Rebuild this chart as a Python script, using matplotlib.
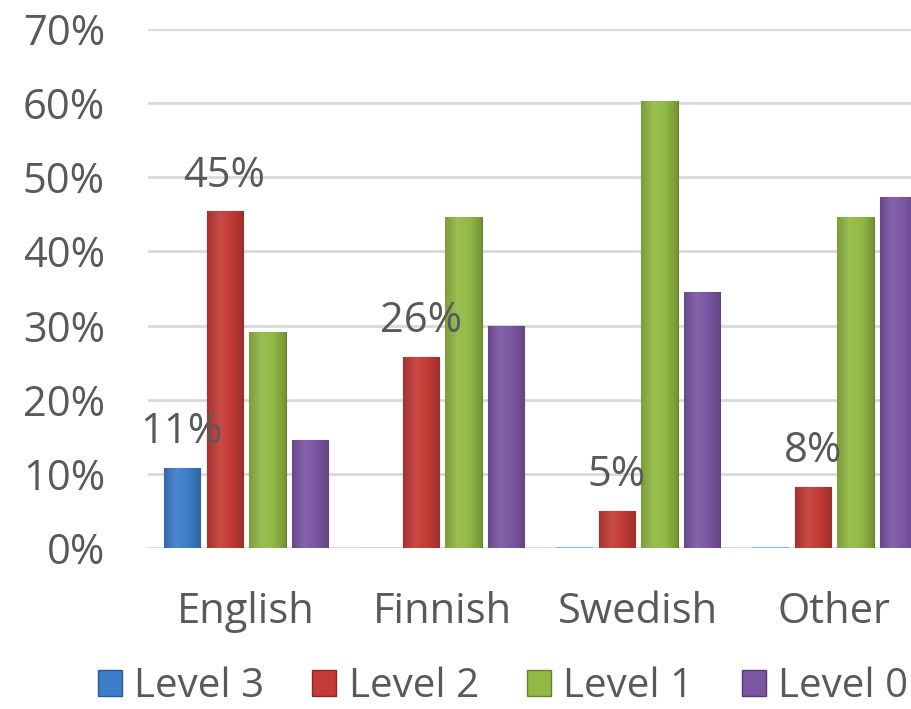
import numpy as np
import matplotlib
matplotlib.use('Agg')
import matplotlib.pyplot as plt
from matplotlib.colors import LinearSegmentedColormap, to_rgb
from matplotlib.patches import Patch

plt.rcParams['font.family'] = ['Open Sans', 'DejaVu Sans']

categories = ['English', 'Finnish', 'Swedish', 'Other']
series = ['Level 3', 'Level 2', 'Level 1', 'Level 0']
level3 = [10.8, 0.0, 0.2, 0.2]
level2 = [45.4, 25.8, 5.0, 8.2]
level1 = [29.2, 44.6, 60.3, 44.6]
level0 = [14.6, 30.0, 34.6, 47.4]
values = [level3, level2, level1, level0]
colors = ['#3d7cc9', '#c23b36', '#92b944', '#7b56a3']
# which bars carry a label (series index, category index, text)
labels = [(0, 0, '11%'), (1, 0, '45%'), (1, 1, '26%'), (1, 2, '5%'), (1, 3, '8%')]

txt = '#595959'
fig = plt.figure(figsize=(9.11, 7.09), dpi=100)
ax = fig.add_axes([0.1625, 0.227, 0.8606, 0.732])

x = np.arange(len(categories))
step = 0.219
width = 0.184

def shade(c, f):
    r = np.array(to_rgb(c))
    return np.clip(r * f, 0, 1) if f < 1 else np.clip(r + (1 - r) * (f - 1), 0, 1)

for i, (vals, c) in enumerate(zip(values, colors)):
    pos = x + (i - 1.5) * step
    bars = ax.bar(pos, np.array(vals) / 100, width, color=c, edgecolor=shade(c, 0.7),
                  linewidth=0.8, zorder=3)
    cmap = LinearSegmentedColormap.from_list('g', [shade(c, 0.85), shade(c, 1.08), c, shade(c, 0.8)])
    grad = np.linspace(0, 1, 64).reshape(1, -1)
    for b in bars:
        if b.get_height() <= 0.005:
            b.set_edgecolor(shade(c, 1.4))
            continue
        x0, w, h = b.get_x(), b.get_width(), b.get_height()
        im = ax.imshow(grad, cmap=cmap, aspect='auto', extent=(x0, x0 + w, 0, h), zorder=3.5)
        im.set_clip_path(b)

for si, ci, t in labels:
    v = values[si][ci] / 100
    ax.text(x[ci] + (si - 1.5) * step, v + 0.02, t, ha='center', va='bottom',
            fontsize=30, color=txt, zorder=5)

ax.set_xlim(-0.5, 3.5)
ax.set_ylim(0, 0.7)
ax.set_yticks(np.arange(0, 0.71, 0.1))
ax.set_yticklabels([f'{int(round(v * 100))}%' for v in np.arange(0, 0.71, 0.1)])
ax.set_xticks(x)
ax.set_xticklabels(categories)
ax.tick_params(axis='both', length=0, labelsize=30, labelcolor=txt, pad=31)
ax.yaxis.grid(True, color='#d9d9d9', linewidth=2, zorder=0)
ax.set_axisbelow(True)
for s in ax.spines.values():
    s.set_visible(False)

handles = [Patch(facecolor=c, edgecolor=shade(c, 0.7)) for c in colors]
fig.legend(handles, series, loc='center', bbox_to_anchor=(0.552, 0.031), ncol=4,
           frameon=False, fontsize=29, labelcolor=txt, handlelength=0.6, handleheight=0.6,
           handletextpad=0.3, columnspacing=1.2, borderpad=0.1)

fig.savefig('out.png', dpi=100)
